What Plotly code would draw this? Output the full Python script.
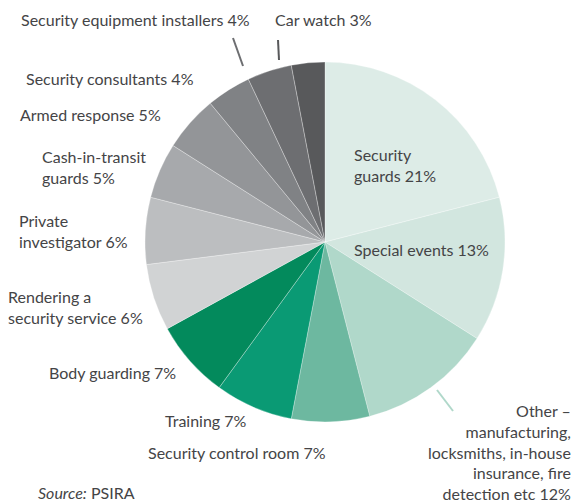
import plotly.graph_objects as go

labels = ["Security guards", "Special events",
          "Other – manufacturing, locksmiths, in-house insurance, fire detection etc",
          "Security control room", "Training", "Body guarding",
          "Rendering a security service", "Private investigator",
          "Cash-in-transit guards", "Armed response", "Security consultants",
          "Security equipment installers", "Car watch"]
values = [21, 13, 12, 7, 7, 7, 6, 6, 5, 5, 4, 4, 3]
colors = ["#ddece7", "#d2e6df", "#b0d8ca", "#6db8a0", "#0a9a74", "#038a5c",
          "#d1d3d4", "#bcbec0", "#a7a9ac", "#939598", "#808285", "#6d6e71", "#58595b"]

W, H = 579, 504
cx, cy, r = 325, 242, 180

fig = go.Figure(go.Pie(
    labels=labels, values=values, sort=False, direction="clockwise", rotation=0,
    marker=dict(colors=colors, line=dict(color="rgba(255,255,255,0.5)", width=0.6)),
    textinfo="none", hoverinfo="label+percent", showlegend=False,
    domain=dict(x=[(cx - r) / W, (cx + r) / W], y=[(H - cy - r) / H, (H - cy + r) / H]),
))

FONT = dict(family="Lato, Open Sans, sans-serif", size=16, color="#444446")

def px(x): return x / W
def py(y): return 1 - y / H

# (text, x, y, anchor) - positions in pixels of the anchor point, y is vertical center
ann = [
    ("Security equipment installers 4%", 252, 20, "right"),
    ("Car watch 3%", 273, 20, "left"),
    ("Security consultants 4%", 196, 78, "right"),
    ("Armed response 5%", 163, 115, "right"),
    ("Cash-in-transit<br>guards 5%", 40, 167, "left"),
    ("Private<br>investigator 6%", 17, 231, "left"),
    ("Rendering a<br>security service 6%", 6, 307, "left"),
    ("Body guarding 7%", 178, 372, "right"),
    ("Training 7%", 249, 420, "right"),
    ("Security control room 7%", 328, 452, "right"),
    ("Security<br>guards 21%", 352, 165, "left"),
    ("Special events 13%", 352, 249, "left"),
    ("Other –<br>manufacturing,<br>locksmiths, in-house<br>insurance, fire<br>detection etc 12%", 573, 452, "right"),
]
for t, x, y, a in ann:
    fig.add_annotation(text=t, x=px(x), y=py(y), xref="paper", yref="paper",
                       xanchor=a, yanchor="middle", align=a, showarrow=False, font=FONT)

fig.add_annotation(text="<i>Source:</i> PSIRA", x=px(36), y=py(492), xref="paper", yref="paper",
                   xanchor="left", yanchor="middle", showarrow=False, font=FONT)

# leader lines
for (x0, y0, x1, y1, c) in [(233, 38, 243, 66, "#6d6e71"), (278, 40, 279, 60, "#58595b"),
                            (437, 390, 453, 411, "#b0d8ca")]:
    fig.add_shape(type="line", x0=px(x0), y0=py(y0), x1=px(x1), y1=py(y1),
                  xref="paper", yref="paper", line=dict(color=c, width=2))

fig.update_layout(width=W, height=H, margin=dict(l=0, r=0, t=0, b=0),
                  paper_bgcolor="white", plot_bgcolor="white")
fig.write_html("out.html", config={"displayModeBar": False},
               post_script="document.body.style.margin='0';document.body.style.overflow='hidden';")
